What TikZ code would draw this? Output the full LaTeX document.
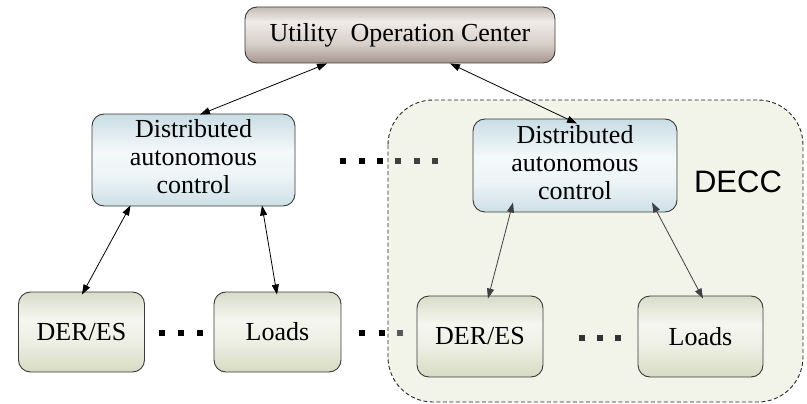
\documentclass[tikz,border=0pt]{standalone}
\usepackage{fontspec}
\setmainfont{Liberation Serif}
\newfontfamily\labelfont{Liberation Sans}
\usetikzlibrary{arrows.meta}

\definecolor{edgegray}{HTML}{3A3A3A}
\definecolor{deccfill}{HTML}{F2F4EA}

\definecolor{uocA}{RGB}{166,149,141}
\definecolor{uocB}{RGB}{214,206,201}
\definecolor{uocC}{RGB}{240,236,233}
\definecolor{uocD}{RGB}{196,186,180}
\definecolor{dacA}{RGB}{205,224,231}
\definecolor{dacB}{RGB}{238,245,247}
\definecolor{dacC}{RGB}{244,248,249}
\definecolor{dacD}{RGB}{201,221,229}
\definecolor{unitA}{RGB}{214,219,196}
\definecolor{unitB}{RGB}{238,240,229}
\definecolor{unitC}{RGB}{245,246,239}
\definecolor{unitD}{RGB}{216,221,201}

% vertical fills of the three kinds of boxes (stops from bottom to top)
\pgfdeclareverticalshading{uocshade}{100bp}{
  color(0bp)=(uocA); color(25bp)=(uocA); color(42bp)=(uocB);
  color(62bp)=(uocC); color(75bp)=(uocD); color(100bp)=(uocD)}
\pgfdeclareverticalshading{dacshade}{100bp}{
  color(0bp)=(dacA); color(25bp)=(dacA); color(42bp)=(dacB);
  color(55bp)=(dacC); color(75bp)=(dacD); color(100bp)=(dacD)}
\pgfdeclareverticalshading{unitshade}{100bp}{
  color(0bp)=(unitA); color(25bp)=(unitA); color(45bp)=(unitB);
  color(58bp)=(unitC); color(75bp)=(unitD); color(100bp)=(unitD)}

\tikzset{
  box/.style={draw=edgegray, line width=0.9pt, rounded corners=12pt,
    align=center, inner sep=0pt, font=\fontsize{26}{28}\selectfont},
  centerbox/.style={box, shading=uocshade, minimum width=310pt, minimum height=56pt},
  ctrlbox/.style={box, shading=dacshade, minimum width=203pt, minimum height=92pt},
  unitbox/.style={box, shading=unitshade, minimum width=126pt, minimum height=80pt},
  link/.style={draw=#1, line width=0.8pt,
    {Triangle[length=10pt,width=7pt]}-{Triangle[length=10pt,width=7pt]}},
  link/.default=black,
  region/.style={draw=black!85, dash pattern=on 4pt off 2.5pt, line width=0.9pt,
    fill=deccfill, rounded corners=45pt},
  dot/.style={fill=#1},
  dot/.default=black,
}

\newcommand{\dacText}{\raisebox{-5pt}{\begin{tabular}{@{}c@{}}Distributed\\autonomous\\control\end{tabular}}}

\begin{document}
\begin{tikzpicture}[x=1pt, y=-1pt]
  \useasboundingbox (0,0) rectangle (807,404);

  % distributed energy control cluster
  \draw[region] (388,100) rectangle (803,402);
  \node[font=\labelfont\fontsize{31}{33}\selectfont] (decc) at (738,182) {DECC};

  % boxes
  \node[centerbox] (uoc) at (400,35) {Utility\ \ Operation Center};
  \node[ctrlbox] (dacL) at (193.5,160) {\dacText};
  \node[ctrlbox, minimum width=204pt, minimum height=93pt] (dacR) at (575,165.5) {\dacText};
  \node[unitbox] (derL) at (81.5,332) {DER/ES};
  \node[unitbox, minimum width=127pt] (loadL) at (277.5,332) {Loads};
  \node[unitbox, minimum height=81pt] (derR) at (480,336.5) {DER/ES};
  \node[unitbox, minimum width=125pt, minimum height=81pt] (loadR) at (700.5,336.5) {Loads};

  % links
  \draw[link] ([xshift=-73pt]uoc.south) -- ([xshift=6.5pt,yshift=-1pt]dacL.north);
  \draw[link] ([xshift=50pt]uoc.south) -- ([xshift=2pt,yshift=-5pt]dacR.north);
  \draw[link] ([xshift=-63pt,yshift=1pt]dacL.south) -- ([xshift=0.5pt,yshift=-3pt]derL.north);
  \draw[link] ([xshift=68.5pt,yshift=1pt]dacL.south) -- ([xshift=-0.5pt,yshift=-3pt]loadL.north);
  \draw[link=black!75] ([xshift=-62pt,yshift=10pt]dacR.south) -- ([xshift=8pt,yshift=-3pt]derR.north);
  \draw[link=black!75] ([xshift=77pt,yshift=10pt]dacR.south) -- ([xshift=2.5pt,yshift=-3pt]loadR.north);

  % ellipsis dots
  \foreach \x in {343,362,380} \fill[dot] (\x-2.6,161-2.6) rectangle (\x+2.6,161+2.6);
  \foreach \x in {398,417,435} \fill[dot=black!75] (\x-2.6,161-2.6) rectangle (\x+2.6,161+2.6);
  \foreach \x in {162,181,200,362,382} \fill[dot] (\x-2.6,333-2.6) rectangle (\x+2.6,333+2.6);
  \fill[dot=black!65] (400-2.6,333-2.6) rectangle (400+2.6,333+2.6);
  \foreach \x in {582,600,618} \fill[dot=black!80] (\x-2.6,338-2.6) rectangle (\x+2.6,338+2.6);
\end{tikzpicture}
\end{document}
